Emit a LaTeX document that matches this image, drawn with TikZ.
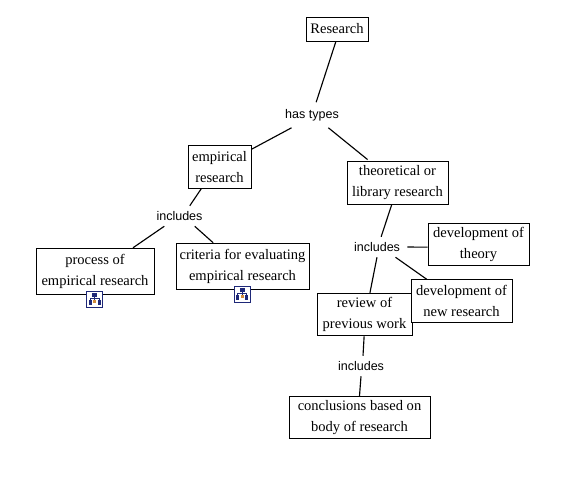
\documentclass[tikz,border=0pt]{standalone}
\usepackage{fontspec}
\setmainfont{Liberation Serif}
\newfontfamily\labelfont{Liberation Sans}
\definecolor{iconblue}{RGB}{30,40,120}
\definecolor{iconorange}{RGB}{210,140,60}
\tikzset{
  box/.style={draw,line width=0.6pt,align=center,inner sep=0pt,minimum height=32pt,
    minimum width=#1*0.75pt,font=\fontsize{10.9}{15.75}\selectfont},
  linkname/.style={inner sep=0pt,align=center,minimum height=15pt,minimum width=45pt,
    font=\labelfont\fontsize{9.4}{11}\selectfont},
  link/.style={line width=0.85pt},
  iconframe/.style={draw=iconblue,line width=0.75pt,fill=white,minimum size=12pt,inner sep=0pt},
  pics/treeicon/.style={code={
    \draw[iconblue,line width=0.4pt] (0,-3) -- (0,1) (-4.5,1) -- (-4.5,-1) -- (4.5,-1) -- (4.5,1);
    \fill[iconblue] (-2.5,-6) rectangle (2.5,-2.5);
    \fill[iconblue] (-6,1) rectangle (-3,5.5);
    \fill[iconorange] (-1.5,0.5) rectangle (1.5,3.5);
    \fill[iconblue] (3,1) rectangle (6,5.5);
  }}
}
\begin{document}
\begin{tikzpicture}[x=0.75pt,y=-0.75pt]
  \useasboundingbox (0,0) rectangle (570,480);
  % concepts
  \node[box=62,minimum height=18pt] (research) at (337,29) {Research};
  \node[box=63] (empirical) at (219.5,167) {empirical\\research};
  \node[box=101] (theoretical) at (397.5,183) {theoretical or\\library research};
  \node[box=118,minimum height=35pt] (process) at (95,271.5) {process of\\empirical research};
  \node[box=133,minimum height=35pt] (criteria) at (242.5,266.5) {criteria for evaluating\\empirical research};
  \node[box=101] (devtheory) at (478.5,244.5) {development of\\theory};
  \node[box=95] (review) at (364.5,314.5) {review of\\previous work};
  \node[box=101,fill=white] (devnew) at (461.5,301) {development of\\new research};
  \node[box=141] (conclusions) at (359.5,417.5) {conclusions based on\\body of research};
  % link names
  \node[linkname,minimum height=18.75pt] (hastypes) at (312,115) {has types};
  \node[linkname] (incl1) at (179.5,216) {includes};
  \node[linkname] (incl2) at (377,247) {includes};
  \node[linkname] (incl3) at (361,366) {includes};
  % icons
  \node[iconframe] (icon1) at (94.5,299) {};
  \pic at (icon1) {treeicon};
  \node[iconframe] (icon2) at (242,294) {};
  \pic at (icon2) {treeicon};
  % connectors
  \draw[link] (research.-95) -- (hastypes.72);
  \draw[link] (hastypes.-148) -- (empirical.29);
  \draw[link,shorten >=2pt] (hastypes.-38) -- (theoretical.142);
  \draw[link] (empirical.-130) -- (incl1.45);
  \draw[link] (incl1.-146) -- (process.32);
  \draw[link] (incl1.-34) -- (criteria.141);
  \draw[link] (theoretical.-105) -- (incl2.68);
  \draw[link] (incl2.0) -- (devtheory.183);
  \draw[link] (incl2.-29) -- (devnew.148);
  \draw[link] (incl2.-90) -- (review.76);
  \draw[link] (review.-91) -- (incl3.79);
  \draw[link] (incl3.-90) -- (conclusions.90);
\end{tikzpicture}
\end{document}
